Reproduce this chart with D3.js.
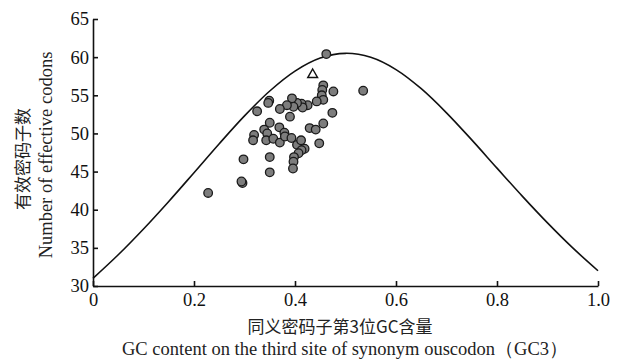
<!DOCTYPE html>
<html>
<head>
<meta charset="utf-8">
<script src="https://cdn.jsdelivr.net/npm/d3@7"></script>
<style>
  body { margin: 0; background: #fff; }
  .label-zh { font-family: "Noto Sans CJK SC", sans-serif; font-size: 17px; fill: #222; }
  .label-en { font-family: "Liberation Serif", serif; font-size: 18.5px; fill: #222; }
</style>
</head>
<body>
<div id="chart"></div>
<script>
// GC3 vs ENC of each gene
var gc3 = [0.462, 0.456, 0.454, 0.453, 0.456, 0.476, 0.535, 0.443, 0.425, 0.413,
           0.415, 0.404, 0.397, 0.394, 0.384, 0.370, 0.349, 0.347, 0.325, 0.390,
           0.474, 0.456, 0.429, 0.441, 0.350, 0.369, 0.339, 0.345, 0.379, 0.319,
           0.317, 0.343, 0.357, 0.370, 0.380, 0.393, 0.404, 0.412, 0.419, 0.413,
           0.407, 0.398, 0.397, 0.396, 0.448, 0.298, 0.350, 0.350, 0.296, 0.294,
           0.228];
var enc = [60.4, 56.3, 55.7, 55.0, 54.4, 55.5, 55.6, 54.2, 53.7, 53.9,
           53.4, 54.0, 53.5, 54.6, 53.7, 53.2, 54.3, 54.0, 52.9, 52.2,
           52.7, 51.3, 50.7, 50.5, 51.4, 50.8, 50.5, 50.0, 50.1, 49.8,
           49.1, 49.1, 49.3, 48.8, 49.6, 49.4, 48.5, 49.1, 48.0, 47.8,
           47.4, 46.9, 46.3, 45.4, 48.7, 46.6, 46.9, 44.9, 43.5, 43.7,
           42.2];

// the single triangle marker
var refGc3 = [0.435];
var refEnc = [57.7];

// expected ENC curve read at steps of 0.05
var curveGc3 = [0, 0.05, 0.1, 0.15, 0.2, 0.25, 0.3, 0.35, 0.4, 0.45, 0.5,
                0.55, 0.6, 0.65, 0.7, 0.75, 0.8, 0.85, 0.9, 0.95, 1.0];
var curveEnc = [31.0, 34.09, 37.47, 41.08, 44.85, 48.65, 52.30, 55.56, 58.17, 59.88, 60.5,
                59.98, 58.37, 55.86, 52.70, 49.15, 45.45, 41.78, 38.27, 34.99, 32.0];

var xTicks = [0, 0.2, 0.4, 0.6, 0.8, 1.0];
var xTickLabels = ["0", "0.2", "0.4", "0.6", "0.8", "1.0"];
var yTicks = [30, 35, 40, 45, 50, 55, 60, 65];

var margin = {top: 19, right: 24, bottom: 76, left: 93},
    width = 622 - margin.left - margin.right,
    height = 362 - margin.top - margin.bottom;

var x = d3.scaleLinear().domain([0, 1]).range([0, width]);
var y = d3.scaleLinear().domain([30, 65]).range([height, 0]);

var svg = d3.select("#chart").append("svg")
    .attr("width", 622)
    .attr("height", 362);

var g = svg.append("g")
    .attr("transform", "translate(" + margin.left + "," + margin.top + ")");

// expected curve
var line = d3.line()
    .x(function(d, i) { return x(curveGc3[i]); })
    .y(function(d) { return y(d); })
    .curve(d3.curveCatmullRom);

g.append("path")
    .datum(curveEnc)
    .attr("fill", "none")
    .attr("stroke", "#111")
    .attr("stroke-width", 1.6)
    .attr("d", line);

// axes
var xAxis = d3.axisBottom(x)
    .tickValues(xTicks)
    .tickFormat(function(d, i) { return xTickLabels[i]; })
    .tickSizeInner(-5)
    .tickSizeOuter(0)
    .tickPadding(6);

var yAxis = d3.axisLeft(y)
    .tickValues(yTicks)
    .tickSizeInner(-5)
    .tickSizeOuter(0)
    .tickPadding(4);

var gx = g.append("g")
    .attr("transform", "translate(0," + height + ")")
    .call(xAxis);

var gy = g.append("g").call(yAxis);

[gx, gy].forEach(function(a) {
  a.select(".domain").attr("stroke", "#111").attr("stroke-width", 1.6);
  a.selectAll(".tick line").attr("stroke", "#111").attr("stroke-width", 1.6);
  a.selectAll(".tick text")
      .attr("fill", "#111")
      .style("font-family", "'Liberation Serif', 'DejaVu Serif', serif")
      .style("font-size", "18.5px");
});
gx.selectAll(".tick text").attr("dy", "0.75em");

// points
g.selectAll("circle.pt")
    .data(gc3)
  .enter().append("circle")
    .attr("class", "pt")
    .attr("cx", function(d) { return x(d); })
    .attr("cy", function(d, i) { return y(enc[i]); })
    .attr("r", 4.3)
    .attr("fill", "#7d7d7d")
    .attr("stroke", "#1a1a1a")
    .attr("stroke-width", 1.3);

var tri = d3.symbol().type(d3.symbolTriangle).size(42);
g.selectAll("path.ref")
    .data(refGc3)
  .enter().append("path")
    .attr("class", "ref")
    .attr("d", tri)
    .attr("transform", function(d, i) {
      return "translate(" + x(d) + "," + y(refEnc[i]) + ")";
    })
    .attr("fill", "#fff")
    .attr("stroke", "#111")
    .attr("stroke-width", 1.4);

// axis titles
svg.append("text")
    .attr("class", "label-zh")
    .attr("text-anchor", "middle")
    .attr("transform", "translate(29,159) rotate(-90)")
    .text("有效密码子数");

svg.append("text")
    .attr("class", "label-en")
    .attr("text-anchor", "middle")
    .attr("transform", "translate(52,155) rotate(-90)")
    .text("Number of effective codons");

svg.append("text")
    .attr("class", "label-zh")
    .attr("text-anchor", "middle")
    .attr("x", 340)
    .attr("y", 333)
    .text("同义密码子第3位GC含量");

svg.append("text")
    .attr("class", "label-en")
    .attr("text-anchor", "middle")
    .attr("x", 345)
    .attr("y", 355)
    .text("GC content on the third site of synonym ouscodon（GC3）");
</script>
</body>
</html>
